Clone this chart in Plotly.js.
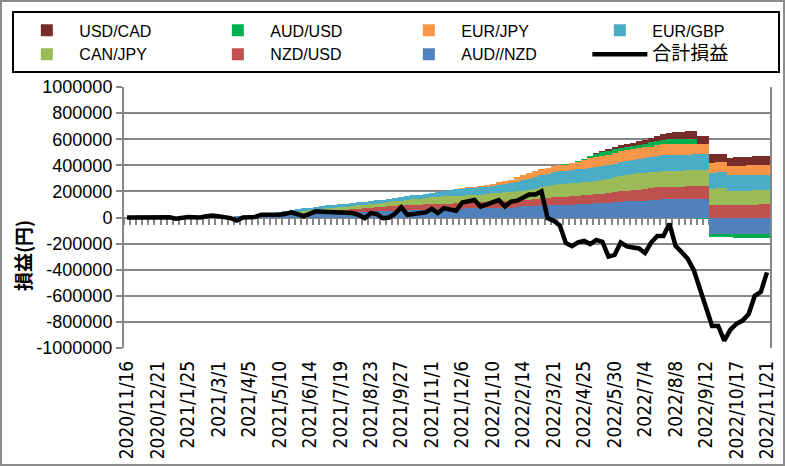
<!DOCTYPE html>
<html>
<head>
<meta charset="utf-8">
<script src="https://cdn.plot.ly/plotly-3.0.1.min.js"></script>
<style>
  body { margin: 0; background: #fff; }
  #wrap { position: relative; width: 785px; height: 466px; }
  #frame { position: absolute; left: 0; top: 0; width: 785px; height: 466px;
           box-sizing: border-box; border: 2px solid #8c8c8c; pointer-events: none; }
</style>
</head>
<body>
<div id="wrap">
  <div id="chart" style="width:785px;height:466px;"></div>
  <div id="frame"></div>
</div>
<script>
// Semanas (lunes) desde 2020/11/16
var firstWeek = [2020, 11, 16];
var weekCount = 106;
var tickDates = ['2020/11/16', '2020/12/21', '2021/1/25', '2021/3/1', '2021/4/5', '2021/5/10',
    '2021/6/14', '2021/7/19', '2021/8/23', '2021/9/27', '2021/11/1', '2021/12/6', '2022/1/10',
    '2022/2/14', '2022/3/21', '2022/4/25', '2022/5/30', '2022/7/4', '2022/8/8', '2022/9/12',
    '2022/10/17', '2022/11/21'];
var yTicks = [-1000000, -800000, -600000, -400000, -200000, 0, 200000, 400000, 600000, 800000, 1000000];
var yTickText = ['-1000000', '-800000', '-600000', '-400000', '-200000', '0',
    '200000', '400000', '600000', '800000', '1000000'];

// Valores por par (yen)
var audNzd = [0, 0, 0, 0, 0, 0, 0, 0, 0, 0, 0, 0, 0, 0, 0, 0, 0,
    5000, 8000, 10000, 12000, 14000, 16000, 17000, 18000, 20000, 21000, 23000, 24000, 26000, 28000,
    30000, 32000, 35000, 37000, 40000, 41000, 42000, 43000, 45000, 46000, 47000, 48000, 50000, 51000,
    52000, 54000, 56000, 58000, 60000, 62000, 64000, 66000, 67000, 68000, 69000, 70000, 71000, 71000,
    72000, 72000, 73000, 74000, 75000, 80000, 85000, 89000, 91000, 93000, 94000, 95000, 96000, 97000,
    99000, 101000, 103000, 105000, 108000, 110000, 112000, 116000, 120000, 123000, 126000, 128000,
    130000, 133000, 136000, 139000, 139000, 138000, 138000, 138000, 138000, 138000, 138000,
    -125000, -125000, -125000, -125000, -126000, -126000, -126000, -127000, -127000, -127000];
var nzdUsd = [0, 0, 0, 0, 0, 0, 0, 0, 0, 0, 0, 0, 0, 0, 0, 0, 0, 0, 0, 0, 0, 0, 0, 0, 0,
    2000, 4000, 6000, 8000, 11000, 12000, 13000, 14000, 16000, 17000, 18000, 20000, 22000, 24000,
    26000, 28000, 31000, 33000, 35000, 38000, 40000, 40000, 40000, 40000, 40000, 40000, 39000, 38000,
    40000, 42000, 44000, 45000, 46000, 47000, 49000, 52000, 54000, 54000, 53000, 51000, 48000, 45000,
    48000, 52000, 56000, 59000, 62000, 63000, 65000, 66000, 67000, 69000, 70000, 72000, 74000, 77000,
    80000, 82000, 83000, 86000, 89000, 91000, 94000, 96000, 97000, 98000, 99000, 100000, 100000,
    100000, 100000, 93000, 93000, 93000, 93000, 94000, 95000, 96000, 98000, 100000, 100000];
var canJpy = [0, 0, 0, 0, 0, 0, 0, 0, 0, 0, 0, 0, 0, 0, 0, 0, 0, 0, 0, 0, 0, 0, 0, 0,
    2000, 4000, 6000, 9000, 12000, 14000, 15000, 17000, 18000, 20000, 21000, 22000, 23000, 24000,
    25000, 25000, 26000, 28000, 30000, 32000, 34000, 35000, 38000, 42000, 46000, 50000, 52000, 56000,
    60000, 58000, 56000, 55000, 55000, 56000, 57000, 58000, 60000, 62000, 64000, 67000, 70000, 73000,
    75000, 80000, 85000, 90000, 95000, 98000, 100000, 100000, 101000, 101000, 101000, 101000, 104000,
    108000, 114000, 120000, 124000, 126000, 125000, 123000, 121000, 120000, 120000, 121000, 122000,
    123000, 124000, 125000, 125000, 125000, 125000, 135000, 135000, 108000, 108000, 108000, 109000,
    109000, 108000, 108000];
var eurGbp = [0, 0, 0, 0, 0, 0, 0, 0, 0, 0, 0, 0, 0, 0, 0, 0, 0, 0, 0, 0,
    3000, 6000, 9000, 12000, 15000, 17000, 19000, 20000, 20000, 20000, 20000, 21000, 21000, 22000,
    22000, 22000, 23000, 23000, 24000, 24000, 24000, 25000, 26000, 27000, 29000, 30000, 31000, 32000,
    32000, 33000, 33000, 36000, 41000, 45000, 50000, 53000, 55000, 55000, 56000, 58000, 60000, 62000,
    64000, 68000, 73000, 79000, 85000, 90000, 94000, 97000, 99000, 100000, 100000, 101000, 102000,
    103000, 104000, 105000, 105000, 105000, 105000, 105000, 105000, 105000, 108000, 112000, 116000,
    119000, 122000, 122000, 121000, 121000, 120000, 120000, 120000, 120000, 120000, 118000, 118000,
    125000, 124000, 123000, 122000, 120000, 118000, 118000];
var eurJpy = [0, 0, 0, 0, 0, 0, 0, 0, 0, 0, 0, 0, 0, 0, 0, 0, 0, 0, 0, 0, 0, 0, 0, 0, 0, 0, 0,
    0, 0, 0, 0, 0, 0, 0, 0, 0, 0, 0, 0, 0, 0, 0, 0, 0, 0, 0, 0, 0, 0, 0, 0, 0, 0, 0,
    1000, 3000, 6000, 9000, 12000, 14000, 16000, 19000, 23000, 28000, 34000, 40000, 46000, 48000,
    47000, 46000, 45000, 45000, 45000, 50000, 58000, 66000, 74000, 80000, 81000, 82000, 82000, 82000,
    82000, 82000, 82000, 83000, 83000, 83000, 83000, 83000, 83000, 83000, 83000, 83000, 82000, 82000,
    83000, 83000, 83000, 68000, 68000, 70000, 72000, 74000, 77000, 78000];
var audUsd = [0, 0, 0, 0, 0, 0, 0, 0, 0, 0, 0, 0, 0, 0, 0, 0, 0, 0, 0, 0, 0, 0, 0, 0, 0, 0, 0,
    0, 0, 0, 0, 0, 0, 0, 0, 0, 0, 0, 0, 0, 0, 0, 0, 0, 0, 0, 0, 0, 0, 0, 0, 0, 0, 0, 0, 0, 0,
    0, 0, 0, 0, 0, 0, 0, 0, 0, 0, 0, 0, 0, 0, 0,
    2000, 4000, 8000, 12000, 18000, 24000, 28000, 30000, 28000, 26000, 25000, 25000, 27000, 29000,
    31000, 33000, 35000, 36000, 37000, 38000, 38000, 38000, -15000, -15000,
    -28000, -28000, -28000, -28000, -28000, -28000, -28000, -28000, -28000, -28000];
var usdCad = [0, 0, 0, 0, 0, 0, 0, 0, 0, 0, 0, 0, 0, 0, 0, 0, 0, 0, 0, 0, 0, 0, 0, 0, 0, 0, 0,
    0, 0, 0, 0, 0, 0, 0, 0, 0, 0, 0, 0, 0, 0, 0, 0, 0, 0, 0, 0, 0, 0, 0, 0, 0, 0, 0, 0, 0, 0,
    0, 0, 0, 0, 0, 0, 0, 0, 0, 0, 0, 0, 0, 0, 0, 0, 0, 0, 0, 0,
    8000, 13000, 16000, 20000, 23000, 25000, 26000, 28000, 31000, 35000, 40000, 45000, 50000, 54000,
    57000, 60000, 60000, 60000, 60000, 63000, 60000, 60000, 65000, 66000, 66000, 66000, 67000, 68000,
    68000];
var totalPL = [0, 0, 2000, 4000, 4000, 4000, 4000, 2000, -9000, 0,
    4000, 2000, 0, 9000, 16000, 10000, 0, -5000, -24000, 0,
    2000, 4000, 21000, 20000, 20000, 21000, 28000, 39000, 25000, 9000,
    30000, 47000, 44000, 42000, 40000, 39000, 36000, 34000, 20000, -6000,
    34000, 26000, -6000, 0, 30000, 77000, 21000, 25000, 32000, 39000,
    66000, 34000, 71000, 60000, 51000, 114000, 122000, 134000, 84000, 100000,
    122000, 134000, 84000, 122000, 129000, 155000, 177000, 177000, 200000, -5000,
    -25000, -60000, -195000, -220000, -190000, -180000, -204000, -172000, -186000, -300000,
    -287000, -192000, -222000, -230000, -237000, -272000, -192000, -141000, -141000, -47000,
    -217000, -265000, -317000, -404000, -540000, -700000, -831000, -831000, -944000, -860000,
    -815000, -790000, -740000, -600000, -570000, -420000];

function buildWeeks() {
    var d = new Date(Date.UTC(firstWeek[0], firstWeek[1] - 1, firstWeek[2]));
    var out = [];
    for (var i = 0; i < weekCount; i++) {
        out.push(d.getUTCFullYear() + '/' + (d.getUTCMonth() + 1) + '/' + d.getUTCDate());
        d.setUTCDate(d.getUTCDate() + 7);
    }
    return out;
}
var weeks = buildWeeks();

function createBar(name, values, color, rank) {
    return {
        type: 'bar',
        x: weeks,
        y: values,
        name: name,
        marker: { color: color, line: { width: 0 } },
        legendrank: rank,
        hoverinfo: 'skip'
    };
}

// Orden de apilado: el primero queda abajo
var data = [
    createBar('AUD//NZD', audNzd, '#4F81BD', 7),
    createBar('NZD/USD', nzdUsd, '#C0504D', 6),
    createBar('CAN/JPY', canJpy, '#9BBB59', 5),
    createBar('EUR/GBP', eurGbp, '#4BACC6', 4),
    createBar('EUR/JPY', eurJpy, '#F79646', 3),
    createBar('AUD/USD', audUsd, '#00B050', 2),
    createBar('USD/CAD', usdCad, '#772C2A', 1),
    {
        type: 'scatter',
        mode: 'lines',
        x: weeks,
        y: totalPL,
        xaxis: 'x2',
        name: '<span style="font-family:Noto Sans CJK JP;font-size:19px">合計損益</span>',
        line: { color: '#000000', width: 4.5 },
        legendrank: 8,
        hoverinfo: 'skip'
    }
];

var gridGray = '#868686';
var plotL = 122, plotR = 770, plotT = 82, plotB = 348;

var layout = {
    width: 785,
    height: 466,
    margin: { l: plotL, r: 785 - plotR, t: plotT, b: 466 - plotB },
    paper_bgcolor: '#ffffff',
    plot_bgcolor: '#ffffff',
    barmode: 'relative',
    bargap: 0,
    font: { family: 'Liberation Sans, Arial, sans-serif', size: 17, color: '#000000' },
    showlegend: true,
    legend: {
        orientation: 'h',
        x: (10 - plotL) / (plotR - plotL),
        y: (plotB - 5) / (plotB - plotT),
        xanchor: 'left',
        yanchor: 'top',
        entrywidth: 121,
        entrywidthmode: 'pixels',
        itemwidth: 55,
        tracegroupgap: 0,
        bgcolor: '#ffffff',
        bordercolor: '#000000',
        borderwidth: 2,
        font: { size: 16 }
    },
    xaxis: {
        type: 'category',
        range: [-0.5, weekCount - 0.5],
        tickmode: 'array',
        tickvals: tickDates,
        ticktext: tickDates,
        tickangle: -90,
        tickfont: { family: 'DejaVu Sans Condensed, DejaVu Sans', size: 19, color: '#000000' },
        ticklabelstandoff: 8,
        ticks: '',
        showline: false,
        showgrid: false,
        zeroline: false
    },
    xaxis2: {
        type: 'category',
        overlaying: 'x',
        anchor: 'free',
        position: 0.5,
        range: [-0.5, weekCount - 0.5],
        tickmode: 'linear',
        tick0: 0,
        dtick: 1,
        tickson: 'boundaries',
        ticks: 'outside',
        ticklen: 6,
        tickwidth: 2,
        tickcolor: gridGray,
        showticklabels: false,
        showline: true,
        linecolor: gridGray,
        linewidth: 2,
        showgrid: false,
        zeroline: false,
        layer: 'below traces'
    },
    yaxis: {
        range: [-1000000, 1000000],
        tickmode: 'array',
        tickvals: yTicks,
        ticktext: yTickText,
        tickfont: { size: 18, color: '#000000' },
        ticks: 'outside',
        ticklen: 6,
        tickwidth: 2,
        tickcolor: gridGray,
        showline: true,
        mirror: true,
        linecolor: gridGray,
        linewidth: 2,
        showgrid: true,
        gridcolor: gridGray,
        gridwidth: 2,
        zeroline: false
    },
    annotations: [{
        text: '<b>損益(円)</b>',
        xref: 'paper',
        yref: 'paper',
        x: (20 - plotL) / (plotR - plotL),
        y: (plotB - 254) / (plotB - plotT),
        xanchor: 'center',
        yanchor: 'middle',
        textangle: -90,
        showarrow: false,
        font: { family: 'Noto Sans CJK JP', size: 19, color: '#000000' }
    }]
};

Plotly.newPlot('chart', data, layout, { displayModeBar: false, staticPlot: true });
</script>
</body>
</html>
